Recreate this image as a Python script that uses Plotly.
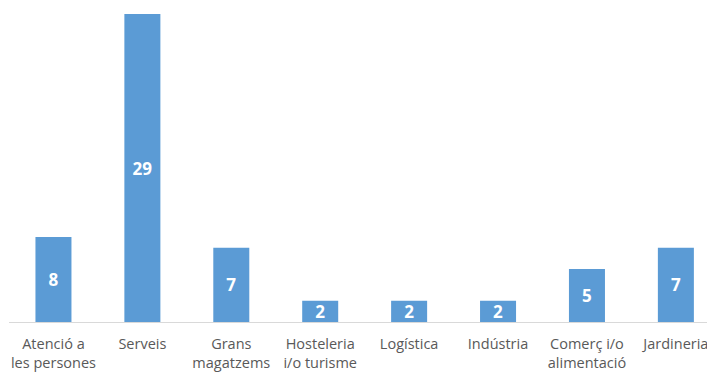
import plotly.graph_objects as go

categories = ["Atenció a<br>les persones", "Serveis", "Grans<br>magatzems", "Hosteleria<br>i/o turisme",
              "Logística", "Indústria", "Comerç i/o<br>alimentació", "Jardineria"]
values = [8, 29, 7, 2, 2, 2, 5, 7]

fig = go.Figure(go.Bar(
    x=categories, y=values, text=[str(v) for v in values],
    textposition="inside", insidetextanchor="middle", textangle=0,
    textfont=dict(color="white", size=17, family="Open Sans"),
    constraintext="none", cliponaxis=False,
    marker=dict(color="#5B9BD5", line=dict(width=0)),
    width=0.405,
))
fig.update_traces(texttemplate="<b>%{text}</b>")
fig.update_layout(
    width=707, height=368,
    margin=dict(l=0.5, r=0, t=6, b=54, autoexpand=False),
    plot_bgcolor="white", paper_bgcolor="white",
    showlegend=False,
    font=dict(family="Open Sans", color="#595959", size=14),
    xaxis=dict(range=[-0.5, 7.44], showline=True, linecolor="#D9D9D9", linewidth=1,
               ticks="", tickfont=dict(size=14.5, color="#595959"), showgrid=False,
               ticklabelstandoff=9, automargin=False),
    yaxis=dict(range=[0, 29], visible=False, showgrid=False, automargin=False),
)
fig.write_html("out.html")
